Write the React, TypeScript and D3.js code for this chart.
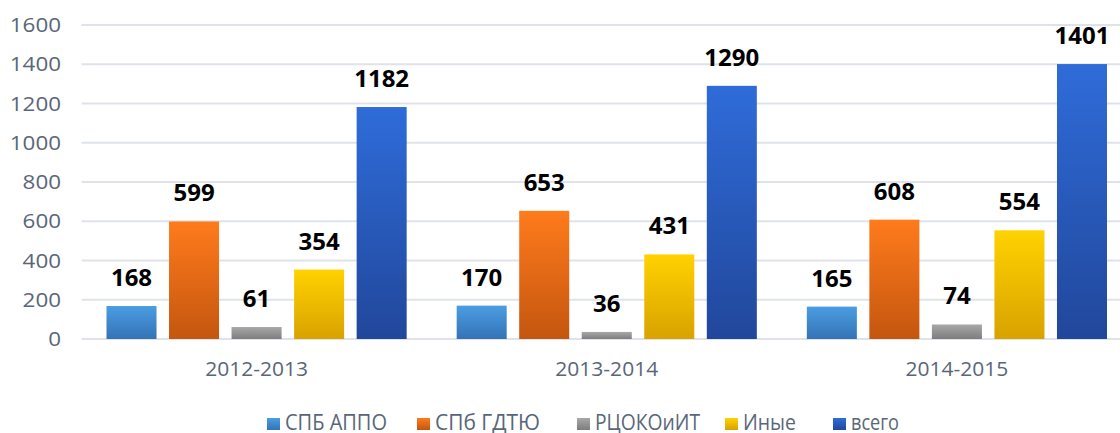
import React from "react";
import * as d3 from "d3";

const years = ["2012-2013", "2013-2014", "2014-2015"];
const seriesNames = ["СПБ АППО", "СПб ГДТЮ", "РЦОКОиИТ", "Иные", "всего"];
const appo = [168, 170, 165];
const gdtu = [599, 653, 608];
const rcoko = [61, 36, 74];
const other = [354, 431, 554];
const total = [1182, 1290, 1401];
const yTicks = [0, 200, 400, 600, 800, 1000, 1200, 1400, 1600];

const seriesValues = [appo, gdtu, rcoko, other, total];
const gradients = [
  ["#4b9de3", "#3473b5"],
  ["#ff7b1c", "#c4560f"],
  ["#a8a8a8", "#7d7d7d"],
  ["#ffd200", "#d9a200"],
  ["#2f6cd9", "#21479b"],
];

const W = 1120;
const H = 433;
const margin = { top: 25, left: 81.5, bottom: 94 };
const plotRight = 1132;
const font = "'Open Sans', sans-serif";
const axisColor = "#596679";

// legend layout
const legendX = [267, 417, 577, 725, 833];
const legendW = [102, 105, 105, 53, 48];

export default function App() {
  const x = d3.scaleBand().domain(years).range([margin.left, plotRight]);
  const inner = d3.scaleBand().domain(seriesNames).range([25, x.bandwidth() - 25]).paddingInner(0.2);
  const y = d3.scaleLinear().domain([0, 1600]).range([H - margin.bottom, margin.top]);

  return (
    <svg width={W} height={H} style={{ position: "absolute", left: 0, top: 0, background: "#fff" }}>
      <defs>
        {gradients.map((g, i) => (
          <linearGradient key={i} id={"grad" + i} x1="0" y1="0" x2="0" y2="1">
            <stop offset="0" stopColor={g[0]} />
            <stop offset="1" stopColor={g[1]} />
          </linearGradient>
        ))}
      </defs>
      {yTicks.map((t) => (
        <g key={t}>
          <line x1={margin.left} x2={W} y1={y(t)} y2={y(t)} stroke="#dfe3e9" strokeWidth={2} />
          <text
            transform={`translate(61,${y(t)}) scale(1.12,1)`}
            dy="0.36em"
            textAnchor="end"
            fontFamily={font}
            fontSize={20}
            fill={axisColor}
          >
            {t}
          </text>
        </g>
      ))}
      {years.map((yr, gi) => (
        <g key={yr}>
          {seriesNames.map((s, si) => {
            const v = seriesValues[si][gi];
            const bx = (x(yr) as number) + (inner(s) as number);
            return (
              <g key={s}>
                <rect x={bx} y={y(v)} width={inner.bandwidth()} height={y(0) - y(v)} fill={`url(#grad${si})`} />
                <text
                  x={bx + inner.bandwidth() / 2}
                  y={y(v) - 20}
                  textAnchor="middle"
                  fontFamily={font}
                  fontWeight="bold"
                  fontSize={24}
                  fill="#000"
                >
                  {v}
                </text>
              </g>
            );
          })}
          <text
            transform={`translate(${(x(yr) as number) + x.bandwidth() / 2},376) scale(1.05,1)`}
            textAnchor="middle"
            fontFamily={font}
            fontSize={20}
            fill={axisColor}
          >
            {yr}
          </text>
        </g>
      ))}
      {seriesNames.map((s, i) => (
        <g key={s} transform={`translate(${legendX[i]},418)`}>
          <rect x={0} y={0} width={13} height={12} fill={`url(#grad${i})`} />
          <text
            x={18}
            y={12}
            fontFamily={font}
            fontSize={21}
            fill={axisColor}
            textLength={legendW[i]}
            lengthAdjust="spacingAndGlyphs"
          >
            {s}
          </text>
        </g>
      ))}
    </svg>
  );
}
